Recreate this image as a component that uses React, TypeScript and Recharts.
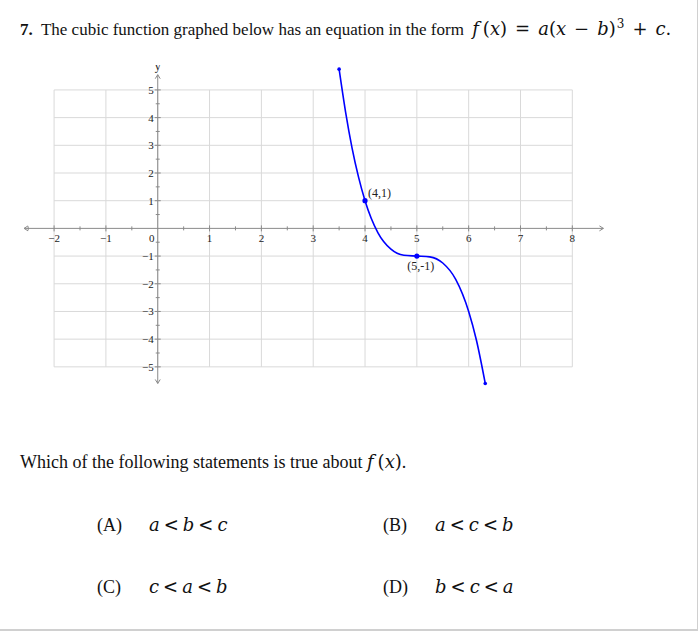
import React from 'react';
import { LineChart, Line, XAxis, YAxis, Scatter, ReferenceLine } from 'recharts';

// curve points
const curveX = [3.5, 3.625, 3.75, 3.875, 4, 4.25, 4.5, 4.75, 5, 5.25, 5.5, 5.75, 6, 6.15, 6.32];
const curveY = [5.75, 4.2, 2.9, 1.85, 1, -0.16, -0.75, -0.97, -1, -1.03, -1.25, -1.84, -3, -4.04, -5.6];

const gridX = [-2, -1, 0, 1, 2, 3, 4, 5, 6, 7, 8];
const gridY = [-5, -4, -3, -2, -1, 1, 2, 3, 4, 5];
const xTickLabels = ['−2', '−1', '0', '1', '2', '3', '4', '5', '6', '7', '8'];
const yTickLabels = ['−5', '−4', '−3', '−2', '−1', '1', '2', '3', '4', '5'];
const halfTicksX = [-2.5, -1.5, -0.5, 0.5, 1.5, 2.5, 3.5, 4.5, 5.5, 6.5, 7.5];
const halfTicksY = [-4.5, -3.5, -2.5, -1.5, -0.5, 0.5, 1.5, 2.5, 3.5, 4.5];

const keyPoints = [
  { x: 4, y: 1, label: '(4,1)' },
  { x: 5, y: -1, label: '(5,-1)' },
];
const axisEnds = [
  { x: -2.58, y: 0, dir: 'left' },
  { x: 8.6, y: 0, dir: 'right' },
  { x: 0, y: 5.55, dir: 'up' },
  { x: 0, y: -5.6, dir: 'down' },
];

const curveData = curveX.map((x, i) => ({ x, y: curveY[i] }));
const xTickData = gridX.map((x, i) => ({ x, y: 0, label: xTickLabels[i] }));
const yTickData = gridY.map((y, i) => ({ x: 0, y, label: yTickLabels[i] }));
const halfXData = halfTicksX.map((x) => ({ x, y: 0 }));
const halfYData = halfTicksY.map((y) => ({ x: 0, y }));

const serif = '"Liberation Serif", "Times New Roman", serif';
const mathFont = '"DejaVu Serif", serif';
const AXIS = '#8a8a8a';
const GRID = '#d9d9d9';
const BLUE = '#0000ff';

const XTick = (p: any) => {
  const { cx, cy, payload } = p;
  const isZero = payload.x === 0;
  return (
    <g>
      {!isZero && <line x1={cx} y1={cy - 3} x2={cx} y2={cy + 3} stroke={AXIS} strokeWidth={1} />}
      <text x={isZero ? cx - 6 : cx} y={cy + 14} textAnchor="middle" fontFamily={serif} fontSize={11} fill="#222">
        {payload.label}
      </text>
    </g>
  );
};

const YTick = (p: any) => {
  const { cx, cy, payload } = p;
  return (
    <g>
      <line x1={cx - 3} y1={cy} x2={cx + 3} y2={cy} stroke={AXIS} strokeWidth={1} />
      <text x={cx - 4} y={cy + 4} textAnchor="end" fontFamily={serif} fontSize={11} fill="#222">
        {payload.label}
      </text>
    </g>
  );
};

const HalfX = (p: any) => <line x1={p.cx} y1={p.cy - 2} x2={p.cx} y2={p.cy + 2} stroke={AXIS} strokeWidth={1} />;
const HalfY = (p: any) => <line x1={p.cx - 2} y1={p.cy} x2={p.cx + 2} y2={p.cy} stroke={AXIS} strokeWidth={1} />;

const Arrow = (p: any) => {
  const { cx, cy, payload } = p;
  const s = 4;
  let d = '';
  let lbl: React.ReactNode = null;
  if (payload.dir === 'left') d = `M${cx + s},${cy - s / 1.6} L${cx},${cy} L${cx + s},${cy + s / 1.6}`;
  if (payload.dir === 'right') {
    d = `M${cx - s},${cy - s / 1.6} L${cx},${cy} L${cx - s},${cy + s / 1.6}`;
    lbl = (
      <text x={cx + 3} y={cy + 4} fontFamily={serif} fontSize={12} fill="#222">x</text>
    );
  }
  if (payload.dir === 'up') {
    d = `M${cx - s / 1.6},${cy + s} L${cx},${cy} L${cx + s / 1.6},${cy + s}`;
    lbl = (
      <text x={cx} y={cy - 5} textAnchor="middle" fontFamily={serif} fontSize={12} fill="#222">y</text>
    );
  }
  if (payload.dir === 'down') d = `M${cx - s / 1.6},${cy - s} L${cx},${cy} L${cx + s / 1.6},${cy - s}`;
  return (
    <g>
      <path d={d} fill="none" stroke={AXIS} strokeWidth={1} />
      {lbl}
    </g>
  );
};

const KeyPoint = (p: any) => {
  const { cx, cy, payload } = p;
  const above = payload.y > 0;
  return (
    <g>
      <circle cx={cx} cy={cy} r={2.6} fill={BLUE} />
      <text
        x={above ? cx + 3 : cx + 4}
        y={above ? cy - 4 : cy + 14}
        textAnchor={above ? 'start' : 'middle'}
        fontFamily={serif}
        fontSize={12}
        fill="#222"
      >
        {payload.label}
      </text>
    </g>
  );
};

const EndDot = (p: any) => {
  const { cx, cy, index } = p;
  if (index !== 0 && index !== curveData.length - 1) return <g key={index} />;
  return <circle key={index} cx={cx} cy={cy} r={1.8} fill={BLUE} />;
};

const txt: React.CSSProperties = { position: 'absolute', fontFamily: serif, fontSize: 17, color: '#111', whiteSpace: 'nowrap', lineHeight: '20px' };
const mth: React.CSSProperties = { fontFamily: mathFont, fontStyle: 'italic', fontSize: 18 };

const M = ({ children, gap = 0, lead = 0 }: { children: React.ReactNode; gap?: number; lead?: number }) => (
  <span style={{ ...mth, marginRight: gap, marginLeft: lead }}>{children}</span>
);
const O = ({ children, m = 7 }: { children: React.ReactNode; m?: number }) => (
  <span style={{ fontFamily: mathFont, fontSize: 18, margin: `0 ${m}px` }}>{children}</span>
);
const P = ({ children }: { children: React.ReactNode }) => <span style={{ fontFamily: mathFont, fontSize: 18 }}>{children}</span>;

export default function App() {
  return (
    <div style={{ position: 'absolute', left: 0, top: 0, width: 698, height: 631, background: '#fff', overflow: 'hidden' }}>
      <div style={{ position: 'absolute', right: 0, top: 0, width: 1, height: 631, background: '#d0d0d0' }} />
      <div style={{ position: 'absolute', left: 0, top: 629, width: 698, height: 2, background: '#d0d0d0' }} />

      <div style={{ ...txt, left: 20, top: 14 }}>
        <b>7.</b>&nbsp; The cubic function graphed below has an equation in the form{' '}
        <M gap={4} lead={4}>f</M><P>(</P><M>x</M><P>)</P><O m={8}>=</O><M>a</M><P>(</P><M>x</M><O m={8}>−</O><M>b</M><P>)</P>
        <span style={{ fontFamily: mathFont, fontSize: 12, verticalAlign: '7px', marginLeft: 1 }}>3</span><O m={8}>+</O><M>c</M><P>.</P>
      </div>

      <div style={{ position: 'absolute', left: 0, top: 0 }}>
        <LineChart width={698} height={631} margin={{ top: 65, right: 92, bottom: 242, left: 23 }}>
          <XAxis dataKey="x" type="number" domain={[-2.6, 8.65]} hide allowDataOverflow />
          <YAxis dataKey="y" type="number" domain={[-5.8, 5.9]} hide allowDataOverflow />
          {gridX.map((x) => (
            <ReferenceLine key={'gx' + x} segment={[{ x, y: -5 }, { x, y: 5 }]} stroke={GRID} strokeWidth={1} ifOverflow="visible" />
          ))}
          {gridY.map((y) => (
            <ReferenceLine key={'gy' + y} segment={[{ x: -2, y }, { x: 8, y }]} stroke={GRID} strokeWidth={1} ifOverflow="visible" />
          ))}
          <ReferenceLine segment={[{ x: -2.58, y: 0 }, { x: 8.6, y: 0 }]} stroke={AXIS} strokeWidth={1} ifOverflow="visible" />
          <ReferenceLine segment={[{ x: 0, y: -5.6 }, { x: 0, y: 5.55 }]} stroke={AXIS} strokeWidth={1} ifOverflow="visible" />
          <Scatter data={halfXData} dataKey="y" shape={HalfX} isAnimationActive={false} />
          <Scatter data={halfYData} dataKey="y" shape={HalfY} isAnimationActive={false} />
          <Scatter data={xTickData} dataKey="y" shape={XTick} isAnimationActive={false} />
          <Scatter data={yTickData} dataKey="y" shape={YTick} isAnimationActive={false} />
          <Scatter data={axisEnds} dataKey="y" shape={Arrow} isAnimationActive={false} />
          <Line data={curveData} dataKey="y" type="monotone" stroke={BLUE} strokeWidth={1.6} dot={EndDot} activeDot={false} isAnimationActive={false} />
          <Scatter data={keyPoints} dataKey="y" shape={KeyPoint} isAnimationActive={false} />
        </LineChart>
      </div>

      <div style={{ ...txt, fontSize: 18, left: 20, top: 452 }}>
        Which of the following statements is true about <M gap={4}>f</M><P>(</P><M>x</M><P>)</P>.
      </div>

      <div style={{ ...txt, fontSize: 18, left: 97, top: 515 }}>(A)</div>
      <div style={{ ...txt, left: 149, top: 515 }}><M>a</M><O m={4}>&lt;</O><M>b</M><O m={4}>&lt;</O><M>c</M></div>
      <div style={{ ...txt, fontSize: 18, left: 383, top: 515 }}>(B)</div>
      <div style={{ ...txt, left: 435, top: 515 }}><M>a</M><O m={4}>&lt;</O><M>c</M><O m={4}>&lt;</O><M>b</M></div>
      <div style={{ ...txt, fontSize: 18, left: 97, top: 577 }}>(C)</div>
      <div style={{ ...txt, left: 149, top: 577 }}><M>c</M><O m={4}>&lt;</O><M>a</M><O m={4}>&lt;</O><M>b</M></div>
      <div style={{ ...txt, fontSize: 18, left: 383, top: 577 }}>(D)</div>
      <div style={{ ...txt, left: 435, top: 577 }}><M>b</M><O m={4}>&lt;</O><M>c</M><O m={4}>&lt;</O><M>a</M></div>
    </div>
  );
}
